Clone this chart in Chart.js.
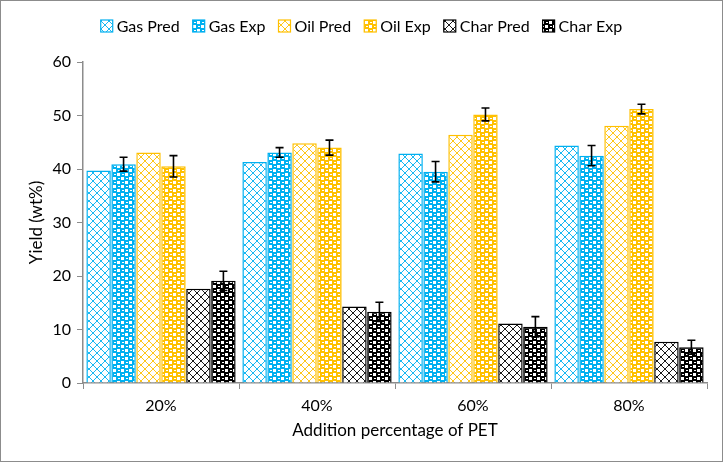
<!DOCTYPE html>
<html>
<head>
<meta charset="utf-8">
<script src="https://cdn.jsdelivr.net/npm/chart.js@4"></script>
<style>
html,body{margin:0;padding:0;background:#fff;}
#wrap{width:721px;height:460px;border:1px solid #8c8c8c;}
</style>
</head>
<body>
<div id="wrap"><canvas id="c" width="721" height="460"></canvas></div>
<script>
const categories = ["20%", "40%", "60%", "80%"];
const gasPred = [39.7, 41.3, 42.9, 44.4];
const gasExp = [40.9, 43.1, 39.5, 42.5];
const oilPred = [43.1, 44.8, 46.4, 48.1];
const oilExp = [40.5, 44.0, 50.2, 51.2];
const charPred = [17.6, 14.3, 11.1, 7.7];
const charExp = [19.1, 13.3, 10.5, 6.7];
const gasExpErr = [1.3, 0.9, 1.9, 1.9];
const oilExpErr = [2.0, 1.4, 1.2, 0.9];
const charExpErr = [1.8, 1.8, 1.9, 1.3];
const yTicks = [0, 10, 20, 30, 40, 50, 60];

const BLUE = "#00B0F0", GOLD = "#FFC000", BLACK = "#000000";
const FONT = "Lato, 'Open Sans', sans-serif";

function predPattern(color) {
  const c = document.createElement("canvas");
  c.width = 8; c.height = 8;
  const g = c.getContext("2d");
  g.fillStyle = "#fff"; g.fillRect(0, 0, 8, 8);
  g.strokeStyle = color; g.lineWidth = 0.9;
  g.beginPath();
  g.moveTo(0, 0); g.lineTo(8, 8);
  g.moveTo(8, 0); g.lineTo(0, 8);
  g.stroke();
  return g.createPattern(c, "repeat");
}
function expPattern(color) {
  const c = document.createElement("canvas");
  c.width = 8; c.height = 8;
  const g = c.getContext("2d");
  g.fillStyle = color; g.fillRect(0, 0, 8, 8);
  g.fillStyle = "#fff";
  g.fillRect(0, 0, 3, 3);
  g.fillRect(4, 4, 3, 3);
  g.fillRect(5, 1, 2, 1);
  g.fillRect(1, 5, 2, 1);
  return g.createPattern(c, "repeat");
}

const errorBars = {
  id: "errorBars",
  afterDatasetsDraw(chart) {
    const ctx = chart.ctx;
    const y = chart.scales.y;
    ctx.save();
    ctx.strokeStyle = "#000";
    ctx.lineWidth = 1.6;
    chart.data.datasets.forEach((ds, di) => {
      if (!ds.errors) return;
      const meta = chart.getDatasetMeta(di);
      meta.data.forEach((bar, i) => {
        const v = ds.data[i], e = ds.errors[i];
        const yt = y.getPixelForValue(v + e), yb = y.getPixelForValue(v - e);
        const x = bar.x, cw = 4;
        ctx.beginPath();
        ctx.moveTo(x, yt); ctx.lineTo(x, yb);
        ctx.moveTo(x - cw, yt); ctx.lineTo(x + cw, yt);
        ctx.moveTo(x - cw, yb); ctx.lineTo(x + cw, yb);
        ctx.stroke();
      });
    });
    ctx.restore();
  }
};

const customLegend = {
  id: "customLegend",
  afterDraw(chart) {
    const ctx = chart.ctx;
    const box = 12, gapText = 4, gapItem = 13, cy = 25;
    ctx.save();
    ctx.font = "16px " + FONT;
    ctx.textBaseline = "middle";
    const items = chart.data.datasets.map(d => ({ d, w: ctx.measureText(d.label).width }));
    const total = items.reduce((s, it) => s + box + gapText + it.w, 0) + gapItem * (items.length - 1);
    let x = (chart.width - total) / 2;
    items.forEach(it => {
      ctx.fillStyle = it.d.backgroundColor;
      ctx.fillRect(x, cy - box / 2, box, box);
      ctx.strokeStyle = it.d.borderColor;
      ctx.lineWidth = 1.2;
      ctx.strokeRect(x, cy - box / 2, box, box);
      ctx.fillStyle = "#000";
      ctx.fillText(it.d.label, x + box + gapText, cy + 1);
      x += box + gapText + it.w + gapItem;
    });
    ctx.restore();
  }
};

function ds(label, data, bg, border, errors) {
  return { label, data, backgroundColor: bg, borderColor: border, borderWidth: 1.5,
    errors, categoryPercentage: 0.96, barPercentage: 0.98 };
}

new Chart(document.getElementById("c"), {
  type: "bar",
  data: {
    labels: categories,
    datasets: [
      ds("Gas Pred", gasPred, predPattern(BLUE), BLUE),
      ds("Gas Exp", gasExp, expPattern(BLUE), BLUE, gasExpErr),
      ds("Oil Pred", oilPred, predPattern(GOLD), GOLD),
      ds("Oil Exp", oilExp, expPattern(GOLD), GOLD, oilExpErr),
      ds("Char Pred", charPred, predPattern(BLACK), BLACK),
      ds("Char Exp", charExp, expPattern(BLACK), BLACK, charExpErr)
    ]
  },
  plugins: [errorBars, customLegend],
  options: {
    responsive: false,
    animation: false,
    layout: { padding: { left: 21, right: 15, top: 61, bottom: 16 } },
    plugins: {
      tooltip: { enabled: false },
      legend: { display: false }
    },
    scales: {
      x: {
        offset: true,
        grid: { offset: true, drawOnChartArea: false, tickLength: 6, color: "#8c8c8c" },
        border: { color: "#8c8c8c", width: 1.5 },
        ticks: { color: "#000", font: { family: FONT, size: 16 }, padding: 7 },
        title: { display: true, text: "Addition percentage of PET", color: "#000",
          font: { family: FONT, size: 17 }, padding: { top: 6 } },
        afterFit(s) { s.height = 62; }
      },
      y: {
        min: 0, max: 60,
        afterBuildTicks(s) { s.ticks = yTicks.map(v => ({ value: v })); },
        grid: { drawOnChartArea: false, tickLength: 6, color: "#8c8c8c" },
        border: { color: "#8c8c8c", width: 1.5 },
        ticks: { color: "#000", font: { family: FONT, size: 16 }, padding: 6 },
        title: { display: true, text: "Yield (wt%)", color: "#000",
          font: { family: FONT, size: 17 }, padding: { bottom: 4 } },
        afterFit(s) { s.width = 61; }
      }
    }
  }
});
</script>
</body>
</html>
